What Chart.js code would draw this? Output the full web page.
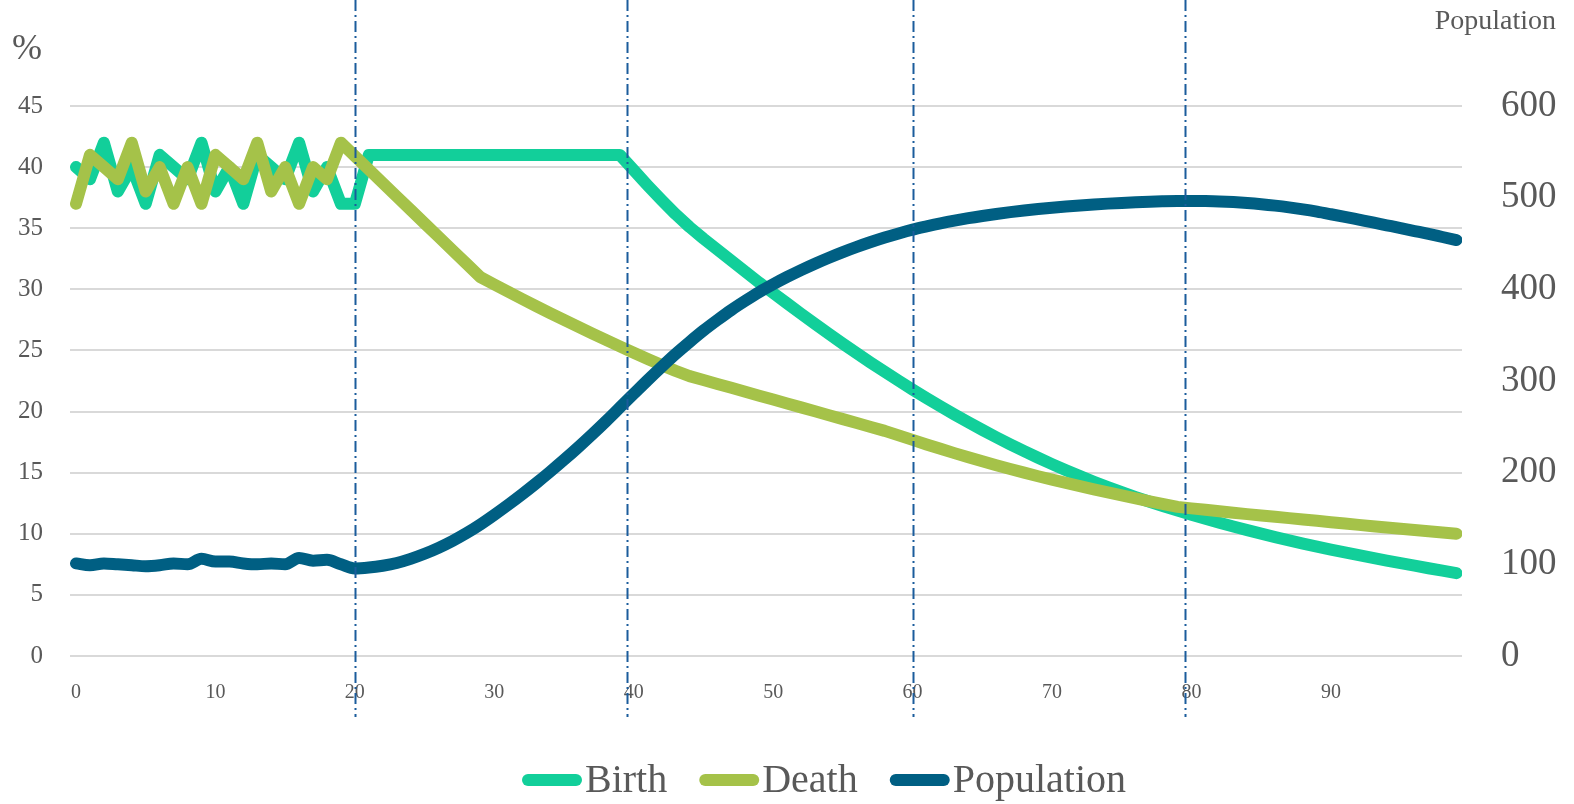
<!DOCTYPE html>
<html>
<head>
<meta charset="utf-8">
<title>Birth, Death and Population</title>
<script src="https://cdn.jsdelivr.net/npm/chart.js@4/dist/chart.umd.min.js"></script>
<style>
  html, body { margin: 0; padding: 0; background: #ffffff; }
  #wrap { width: 1574px; height: 804px; position: relative; }
</style>
</head>
<body>
<div id="wrap"><canvas id="chart"></canvas></div>
<script>
// Time steps along the horizontal axis
const years = Array.from({ length: 100 }, (_, i) => i);
const yearTicks = [0, 10, 20, 30, 40, 50, 60, 70, 80, 90];

// Birth rate (%)
const birth = [
  40, 39, 42, 38, 40, 37, 41, 40, 39, 42,
  38, 40, 37, 41, 40, 39, 42, 38, 40, 37,
  37, 41, 41, 41, 41, 41, 41, 41, 41, 41,
  41, 41, 41, 41, 41, 41, 41, 41, 41, 41,
  39.75, 38.5, 37.3, 36.15, 35.1, 34.15, 33.25, 32.35, 31.45, 30.55,
  29.7, 28.85, 28.0, 27.17, 26.35, 25.55, 24.77, 24.0, 23.25, 22.52,
  21.8, 21.1, 20.42, 19.76, 19.12, 18.5, 17.9, 17.32, 16.76, 16.22,
  15.7, 15.2, 14.72, 14.26, 13.82, 13.4, 13.0, 12.62, 12.25, 11.9,
  11.56, 11.23, 10.91, 10.6, 10.3, 10.01, 9.73, 9.46, 9.2, 8.95,
  8.71, 8.48, 8.25, 8.03, 7.81, 7.6, 7.39, 7.18, 6.98, 6.78
];

// Death rate (%)
const death = [
  37, 41, 40, 39, 42, 38, 40, 37, 40, 37,
  41, 40, 39, 42, 38, 40, 37, 40, 39, 42,
  40.9, 39.8, 38.7, 37.6, 36.5, 35.4, 34.3, 33.2, 32.1, 31.0,
  30.4, 29.8, 29.21, 28.63, 28.06, 27.5, 26.95, 26.4, 25.86, 25.33,
  24.81, 24.3, 23.8, 23.33, 22.9, 22.58, 22.26, 21.94, 21.62, 21.3,
  20.98, 20.66, 20.34, 20.02, 19.7, 19.38, 19.06, 18.74, 18.42, 18.05,
  17.68, 17.31, 16.95, 16.6, 16.26, 15.93, 15.61, 15.3, 15.0, 14.71,
  14.43, 14.16, 13.9, 13.64, 13.39, 13.14, 12.9, 12.66, 12.43, 12.2,
  12.08, 11.96, 11.84, 11.72, 11.61, 11.5, 11.39, 11.28, 11.17, 11.06,
  10.95, 10.84, 10.73, 10.62, 10.51, 10.41, 10.31, 10.21, 10.11, 10.01
];

// Population (right axis)
const population = [
  101, 99, 101, 100, 99, 98, 99, 101, 100, 106,
  103, 103, 101, 100, 101, 100, 107, 104, 105, 100,
  95.5, 96.5, 98.5, 101.5, 106, 111.5, 118, 125.5, 134, 143.5,
  154, 165, 176.5, 188.5, 201, 214, 227.5, 241.5, 256, 271,
  286, 301, 315.5, 329.5, 342.5, 355, 366.5, 377.5, 387.5, 397,
  405.5, 413.5, 421, 428, 434.5, 440.6, 446.3, 451.6, 456.5, 461,
  465.1, 468.6, 471.9, 474.9, 477.6, 480, 482.2, 484.2, 486, 487.6,
  489, 490.3, 491.5, 492.6, 493.5, 494.3, 495, 495.6, 496, 496.3,
  496.5, 496.3, 495.9, 495.2, 494.2, 492.9, 491.3, 489.4, 487.2, 484.7,
  481.9, 479, 476, 473, 469.9, 466.8, 463.6, 460.4, 457.1, 453.8
];

// Phase boundaries marked with dash-dot lines
const phaseMarks = [20, 39.5, 60, 79.5];

const rateTicks = [0, 5, 10, 15, 20, 25, 30, 35, 40, 45];
const popTicks = [0, 100, 200, 300, 400, 500, 600];

const TEXT = '#595959';
const SERIF = '"Liberation Serif", "DejaVu Serif", serif';

// Dash-dot verticals at the phase boundaries, drawn over the series
const phaseLines = {
  id: 'phaseLines',
  afterDatasetsDraw(chart) {
    const { ctx, scales: { x } } = chart;
    ctx.save();
    ctx.strokeStyle = '#1b5c9c';
    ctx.lineWidth = 2;
    ctx.setLineDash([11, 4, 2, 4]);
    phaseMarks.forEach(v => {
      const px = Math.round(x.getPixelForValue(v)) + 0.5;
      ctx.beginPath();
      ctx.moveTo(px, 0);
      ctx.lineTo(px, 717);
      ctx.stroke();
    });
    ctx.restore();
  }
};

// Axis captions and the legend row
const captions = {
  id: 'captions',
  afterDraw(chart) {
    const { ctx } = chart;
    ctx.save();
    ctx.fillStyle = TEXT;
    ctx.textBaseline = 'middle';
    ctx.font = '36px ' + SERIF;
    ctx.textAlign = 'left';
    ctx.fillText('%', 12, 50);
    ctx.font = '28px ' + SERIF;
    ctx.textAlign = 'right';
    ctx.fillText('Population', 1556, 22);

    // legend
    const sets = chart.data.datasets;
    const sampleW = 60, gap = 3, itemGap = 32;
    ctx.font = '40px ' + SERIF;
    let cx = 522;
    const cy = 780;
    sets.forEach(d => {
      ctx.strokeStyle = d.borderColor;
      ctx.lineWidth = 12;
      ctx.lineCap = 'round';
      ctx.setLineDash([]);
      ctx.beginPath();
      ctx.moveTo(cx + 6, cy);
      ctx.lineTo(cx + sampleW - 6, cy);
      ctx.stroke();
      ctx.fillStyle = TEXT;
      ctx.textAlign = 'left';
      ctx.fillText(d.label, cx + sampleW + gap, cy + 1);
      cx += sampleW + gap + ctx.measureText(d.label).width + itemGap;
    });
    ctx.restore();
  }
};

new Chart(document.getElementById('chart'), {
  type: 'line',
  data: {
    labels: years,
    datasets: [
      {
        label: 'Birth', data: birth, yAxisID: 'yRate', order: 2,
        borderColor: '#12cf9a', backgroundColor: '#12cf9a'
      },
      {
        label: 'Death', data: death, yAxisID: 'yRate', order: 1,
        borderColor: '#a5c249', backgroundColor: '#a5c249'
      },
      {
        label: 'Population', data: population, yAxisID: 'yPop', order: 0,
        borderColor: '#005f83', backgroundColor: '#005f83',
        cubicInterpolationMode: 'monotone'
      }
    ]
  },
  options: {
    responsive: true,
    maintainAspectRatio: false,
    animation: false,
    layout: { padding: { top: 106, left: 0, right: 0, bottom: 0 } },
    elements: {
      point: { radius: 0, hoverRadius: 0 },
      line: { borderWidth: 12, borderCapStyle: 'round', borderJoinStyle: 'round', tension: 0, fill: false }
    },
    plugins: {
      legend: { display: false },
      tooltip: { enabled: false },
      title: { display: false }
    },
    scales: {
      x: {
        type: 'linear',
        min: -0.43, max: 99.4,
        grid: { display: false },
        border: { display: false },
        afterBuildTicks(scale) { scale.ticks = yearTicks.map(v => ({ value: v })); },
        afterFit(scale) { scale.height = 148; },
        ticks: {
          padding: 17, maxRotation: 0, autoSkip: false,
          color: TEXT, font: { family: SERIF, size: 20 }
        }
      },
      yRate: {
        type: 'linear', position: 'left',
        min: 0, max: 45,
        afterBuildTicks(scale) { scale.ticks = rateTicks.map(v => ({ value: v })); },
        afterFit(scale) { scale.width = 70; },
        grid: { color: '#d9d9d9', lineWidth: 2, drawTicks: false },
        border: { display: false },
        ticks: { padding: 27, color: TEXT, font: { family: SERIF, size: 25 } }
      },
      yPop: {
        type: 'linear', position: 'right',
        min: 0, max: 600,
        afterBuildTicks(scale) { scale.ticks = popTicks.map(v => ({ value: v })); },
        afterFit(scale) { scale.width = 112; },
        grid: { display: false, drawTicks: false },
        border: { display: false },
        ticks: { padding: 39, color: TEXT, font: { family: SERIF, size: 37 } }
      }
    }
  },
  plugins: [phaseLines, captions]
});
</script>
</body>
</html>
